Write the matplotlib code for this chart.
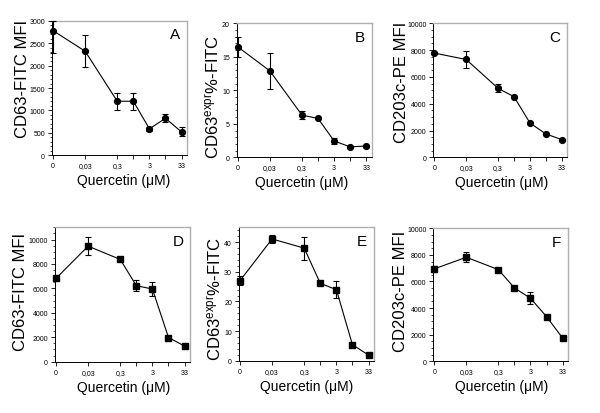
import numpy as np
import matplotlib
matplotlib.use("Agg")
import matplotlib.pyplot as plt
from matplotlib.ticker import MultipleLocator

plt.rcParams['font.family'] = ['Liberation Sans', 'DejaVu Sans']
plt.rcParams['mathtext.fontset'] = 'custom'
plt.rcParams['mathtext.rm'] = 'Liberation Sans'
plt.rcParams['mathtext.it'] = 'Liberation Sans'

# quercetin doses, placed on an even (non linear) axis
dose_pos = [0, 1, 2, 2.5, 3, 3.5, 4]
dose_labels = ["0", "0,03", "0,3", "", "3", "", "33"]

# top row (circles)
a_val = [2780, 2320, 1205, 1205, 590, 825, 520]
a_lo = [500, 360, 190, 185, 40, 90, 100]
a_hi = [220, 360, 190, 185, 40, 90, 100]
b_val = [16.5, 12.9, 6.3, 5.8, 2.45, 1.55, 1.7]
b_err = [1.5, 2.7, 0.6, 0.1, 0.5, 0.1, 0.1]
c_val = [7780, 7300, 5150, 4520, 2560, 1740, 1320]
c_err = [60, 660, 300, 60, 60, 60, 60]

# bottom row (squares)
d_val = [6820, 9460, 8370, 6220, 5950, 1980, 1280]
d_err = [100, 760, 80, 450, 600, 100, 80]
e_val = [27.0, 41.1, 38.0, 26.1, 24.0, 5.4, 1.9]
e_err = [1.5, 1.5, 3.9, 0.2, 2.9, 0.2, 0.2]
f_val = [6950, 7820, 6890, 5510, 4740, 3360, 1750]
f_err = [250, 360, 80, 80, 450, 80, 80]

cd63_lab = "CD63-FITC MFI"
expr_lab = r"CD63$^{\mathrm{expr}}$%-FITC"
cd203_lab = "CD203c-PE MFI"

panels = [
    # letter, values, errors, marker, ylabel, ymax, major, minor, rect, ylabel xy, xlabel x
    ("A", a_val, [a_lo, a_hi], "o", cd63_lab, 3000, 500, 100,
     [0.0867, 0.6225, 0.225, 0.325], (-0.16, 0.578), 0.533),
    ("B", b_val, b_err, "o", expr_lab, 20, 5, 1,
     [0.3945, 0.6176, 0.225, 0.3237], (-0.11, 0.457), 0.48),
    ("C", c_val, c_err, "o", cd203_lab, 10000, 2000, 500,
     [0.7222, 0.6176, 0.2233, 0.3237], (-0.185, 0.57), 0.51),
    ("D", d_val, d_err, "s", cd63_lab, 11000, 2000, 500,
     [0.0917, 0.1239, 0.225, 0.3246], (-0.2, 0.53), 0.505),
    ("E", e_val, e_err, "s", expr_lab, 45, 10, 2,
     [0.3983, 0.1263, 0.225, 0.322], (-0.11, 0.474), 0.50),
    ("F", f_val, f_err, "s", cd203_lab, 10000, 2000, 500,
     [0.7222, 0.1249, 0.2245, 0.3213], (-0.185, 0.536), 0.51),
]

fig = plt.figure(figsize=(6, 4.14), dpi=100)

for letter, vals, errs, mk, ylab, ymax, major, minor, rect, ycoord, xlx in panels:
    ax = fig.add_axes(rect)
    ms = 4.2 if mk == "o" else 3.8
    ax.errorbar(dose_pos, vals, yerr=errs, fmt=mk + "-", color="black",
                ms=ms, lw=0.8, elinewidth=0.8, capsize=2.5, capthick=0.8,
                clip_on=False, zorder=3)
    ax.set_xlim(-0.03, 4.17)
    ax.set_ylim(0, ymax)
    ax.set_xticks(dose_pos)
    ax.set_xticklabels(dose_labels)
    ax.yaxis.set_major_locator(MultipleLocator(major))
    ax.yaxis.set_minor_locator(MultipleLocator(minor))
    ax.tick_params(axis="both", which="major", labelsize=5, length=3,
                   width=0.6, pad=2)
    ax.tick_params(axis="y", which="minor", length=1.5, width=0.5)
    for s in ("left", "bottom"):
        ax.spines[s].set_linewidth(0.7)
    for s in ("top", "right"):
        ax.spines[s].set_color("#b0b0b0")
        ax.spines[s].set_linewidth(1.0)
    ax.set_ylabel(ylab, fontsize=12)
    ax.yaxis.set_label_coords(*ycoord)
    ax.set_xlabel("Quercetin (\u03bcM)", fontsize=10)
    ax.xaxis.set_label_coords(xlx, -0.135)
    ax.text(0.95, 0.9, letter, transform=ax.transAxes, fontsize=11,
            ha="right", va="center")

fig.savefig("out.png", dpi=100)
